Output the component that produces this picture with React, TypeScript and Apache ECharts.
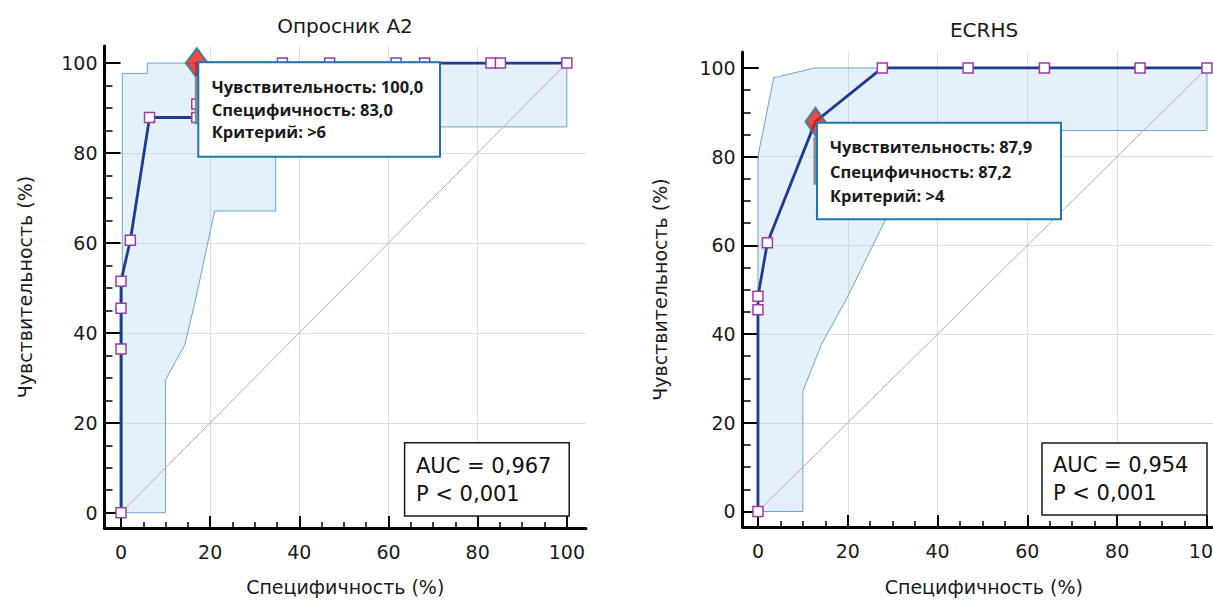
import React, { useEffect, useRef } from "react";
import * as echarts from "echarts";

// ---------- data ----------
// Опросник А2
const a2Fpr = [0, 0, 0, 0, 2.1, 6.4, 17.0, 17.0, 17.0, 36.2, 46.8, 61.7, 68.1, 83.0, 85.1, 100];
const a2Sens = [0, 36.4, 45.5, 51.5, 60.6, 87.9, 87.9, 90.9, 100, 100, 100, 100, 100, 100, 100, 100];
const a2Crit = 8;
const a2UpperX = [0, 0.3, 0.3, 5.9, 5.9, 100];
const a2UpperY = [0, 0, 97.7, 97.7, 100, 100];
const a2LowerX = [100, 100, 34.7, 34.7, 21.0, 16.8, 14.3, 10, 10];
const a2LowerY = [100, 85.8, 85.8, 67.1, 67.1, 47.7, 37.3, 29.6, 0];
const a2Info = ["Чувствительность: 100,0", "Специфичность: 83,0", "Критерий: >6"];
const a2Auc = ["AUC = 0,967", "P < 0,001"];

// ECRHS
const ecFpr = [0, 0, 0, 2.1, 12.8, 27.7, 46.8, 63.8, 85.1, 100];
const ecSens = [0, 45.5, 48.5, 60.6, 87.9, 100, 100, 100, 100, 100];
const ecCrit = 4;
const ecUpperX = [0, 0, 3.5, 12.7, 100];
const ecUpperY = [0, 80.1, 97.8, 100, 100];
const ecLowerX = [100, 100, 37.5, 28.7, 19.8, 14.1, 10, 10];
const ecLowerY = [100, 85.9, 85.9, 66.4, 48.1, 37.6, 27.1, 0];
const ecInfo = ["Чувствительность: 87,9", "Специфичность: 87,2", "Критерий: >4"];
const ecAuc = ["AUC = 0,954", "P < 0,001"];

const diagX = [0, 100];
const diagY = [0, 100];

const MAJOR = [0, 20, 40, 60, 80, 100];
const MINOR = [5, 10, 15, 25, 30, 35, 45, 50, 55, 65, 70, 75, 85, 90, 95];

const titles = ["Опросник А2", "ECRHS"];
const xName = "Специфичность (%)";
const yName = "Чувствительность (%)";

// ---------- styles ----------
const FONT = '"DejaVu Sans", "Liberation Sans", sans-serif';
const TIP_FONT = '"Open Sans", "Noto Sans", sans-serif';
const TXT = "#1a1a1a";
const ROC_COLOR = "#1d3c8f";
const MARK_BORDER = "#9b3aa8";
const BAND_FILL = "rgba(170, 208, 240, 0.32)";
const BAND_STROKE = "#6fa3d4";
const DIAG = "#c9a2b8";
const GRID_LINE = "#dedede";

function majorAxis(gridIndex: number, min: number, max: number, isX: boolean, nameGap: number) {
  return {
    type: "value",
    gridIndex,
    min,
    max,
    position: isX ? "bottom" : "left",
    name: isX ? xName : yName,
    nameLocation: "middle",
    nameGap,
    nameTextStyle: { fontFamily: FONT, fontSize: 19, color: TXT },
    axisLine: { show: true, onZero: false, lineStyle: { color: "#000", width: 3 } },
    axisTick: {
      show: true,
      inside: true,
      length: isX ? 12 : 16,
      customValues: MAJOR,
      lineStyle: { color: "#000", width: 2 },
    },
    axisLabel: {
      show: true,
      customValues: MAJOR,
      margin: isX ? 14 : 7,
      fontFamily: FONT,
      fontSize: 19,
      color: TXT,
      formatter: (v: number) => (Math.abs(v % 20) < 1e-6 ? String(Math.round(v)) : ""),
    },
    splitLine: {
      show: true,
      showMinLine: false,
      showMaxLine: false,
      lineStyle: { color: GRID_LINE, width: 1 },
    },
  };
}

function minorAxis(gridIndex: number, min: number, max: number, isX: boolean) {
  return {
    type: "value",
    gridIndex,
    min,
    max,
    position: isX ? "bottom" : "left",
    axisLine: { show: false, onZero: false },
    axisTick: {
      show: true,
      inside: true,
      length: isX ? 6 : 8,
      customValues: MINOR,
      lineStyle: { color: "#000", width: 1.5 },
    },
    axisLabel: { show: false },
    splitLine: { show: false },
  };
}

function bandSeries(axisIdx: number, ux: number[], uy: number[], lx: number[], ly: number[]) {
  const pts: number[][] = [];
  ux.forEach((x, i) => pts.push([x, uy[i]]));
  lx.forEach((x, i) => pts.push([x, ly[i]]));
  return {
    type: "custom",
    xAxisIndex: axisIdx,
    yAxisIndex: axisIdx,
    z: 1,
    silent: true,
    data: [[0, 0]],
    renderItem: (_p: any, api: any) => ({
      type: "polygon",
      shape: { points: pts.map((p) => api.coord(p)) },
      style: { fill: BAND_FILL, stroke: BAND_STROKE, lineWidth: 1 },
    }),
  };
}

function rocSeries(axisIdx: number, xs: number[], ys: number[], crit: number) {
  return {
    type: "line",
    xAxisIndex: axisIdx,
    yAxisIndex: axisIdx,
    z: 3,
    silent: true,
    showAllSymbol: true,
    symbol: "rect",
    symbolSize: 10,
    itemStyle: { color: "#ffffff", borderColor: MARK_BORDER, borderWidth: 1.5 },
    lineStyle: { color: ROC_COLOR, width: 2.8 },
    data: xs.map((x, i) => (i === crit ? { value: [x, ys[i]], symbol: "none" } : [x, ys[i]])),
  };
}

function diagSeries(axisIdx: number) {
  return {
    type: "line",
    xAxisIndex: axisIdx,
    yAxisIndex: axisIdx,
    z: 2,
    silent: true,
    symbol: "none",
    lineStyle: { color: DIAG, width: 1 },
    data: diagX.map((x, i) => [x, diagY[i]]),
  };
}

function critSeries(axisIdx: number, xs: number[], ys: number[], crit: number, size: number[]) {
  return {
    type: "scatter",
    xAxisIndex: axisIdx,
    yAxisIndex: axisIdx,
    z: 4,
    silent: true,
    symbol: "diamond",
    symbolSize: size,
    itemStyle: { color: "#e3211c", borderColor: "#1b7d9c", borderWidth: 2 },
    data: [[xs[crit], ys[crit]]],
  };
}

function infoBox(x: number, y: number, w: number, h: number, lines: string[], tx: number, ys: number[]) {
  return [
    { type: "rect", z: 99, shape: { x: x - 3.5, y: y + 14, width: 3, height: 48 }, style: { fill: "#8a8a8a" } },
    { type: "rect", z: 100, shape: { x, y, width: w, height: h }, style: { fill: "#ffffff", stroke: "#1f78ad", lineWidth: 2 } },
    ...lines.map((t, i) => ({
      type: "text",
      z: 101,
      x: tx,
      y: ys[i],
      style: { text: t, fontFamily: TIP_FONT, fontWeight: "bold", fontSize: 16.5, fill: TXT, align: "left", verticalAlign: "middle" },
    })),
  ];
}

function aucBox(x: number, y: number, w: number, h: number, lines: string[], tx: number, ys: number[]) {
  return [
    { type: "rect", z: 100, shape: { x, y, width: w, height: h }, style: { fill: "#ffffff", stroke: "#1a1a1a", lineWidth: 1.5 } },
    ...lines.map((t, i) => ({
      type: "text",
      z: 101,
      x: tx,
      y: ys[i],
      style: { text: t, fontFamily: FONT, fontSize: 21, fill: "#111", align: "left", verticalAlign: "middle" },
    })),
  ];
}

export default function App() {
  const ref = useRef<HTMLDivElement>(null);
  useEffect(() => {
    if (!ref.current) return;
    const chart = echarts.init(ref.current, undefined, { renderer: "svg" });
    const option: any = {
      animation: false,
      backgroundColor: "#ffffff",
      grid: [
        { left: 104.5, top: 46, width: 481.5, height: 485.5 },
        { left: 742.7, top: 52, width: 482.2, height: 478 },
      ],
      xAxis: [
        majorAxis(0, -3.7, 104.3, true, 49),
        minorAxis(0, -3.7, 104.3, true),
        majorAxis(1, -3.4, 104, true, 50),
        minorAxis(1, -3.4, 104, true),
      ],
      yAxis: [
        majorAxis(0, -3.4, 103.8, false, 70),
        minorAxis(0, -3.4, 103.8, false),
        majorAxis(1, -3.5, 103.6, false, 73),
        minorAxis(1, -3.5, 103.6, false),
      ],
      series: [
        bandSeries(0, a2UpperX, a2UpperY, a2LowerX, a2LowerY),
        diagSeries(0),
        rocSeries(0, a2Fpr, a2Sens, a2Crit),
        critSeries(0, a2Fpr, a2Sens, a2Crit, [22, 30]),
        bandSeries(2, ecUpperX, ecUpperY, ecLowerX, ecLowerY),
        diagSeries(2),
        rocSeries(2, ecFpr, ecSens, ecCrit),
        critSeries(2, ecFpr, ecSens, ecCrit, [20, 28]),
      ],
      graphic: [
        { type: "text", z: 50, x: 345, y: 26, style: { text: titles[0], fontFamily: FONT, fontSize: 20, fill: TXT, align: "center", verticalAlign: "middle" } },
        { type: "text", z: 50, x: 984, y: 30, style: { text: titles[1], fontFamily: FONT, fontSize: 20, fill: TXT, align: "center", verticalAlign: "middle" } },
        ...infoBox(198.3, 62.3, 241.7, 94.4, a2Info, 211.7, [86.7, 109, 131.7]),
        ...infoBox(817, 122.7, 244, 96.6, ecInfo, 830, [146.7, 171, 195]),
        ...aucBox(404.6, 442.7, 164.6, 73.3, a2Auc, 416, [465.7, 494.3]),
        ...aucBox(1042, 443, 165, 72, ecAuc, 1053, [465, 493]),
      ],
    };
    chart.setOption(option);
    return () => chart.dispose();
  }, []);
  return (
    <div
      ref={ref}
      style={{ position: "fixed", left: 0, top: 0, width: 1240, height: 601, background: "#fff" }}
    />
  );
}
